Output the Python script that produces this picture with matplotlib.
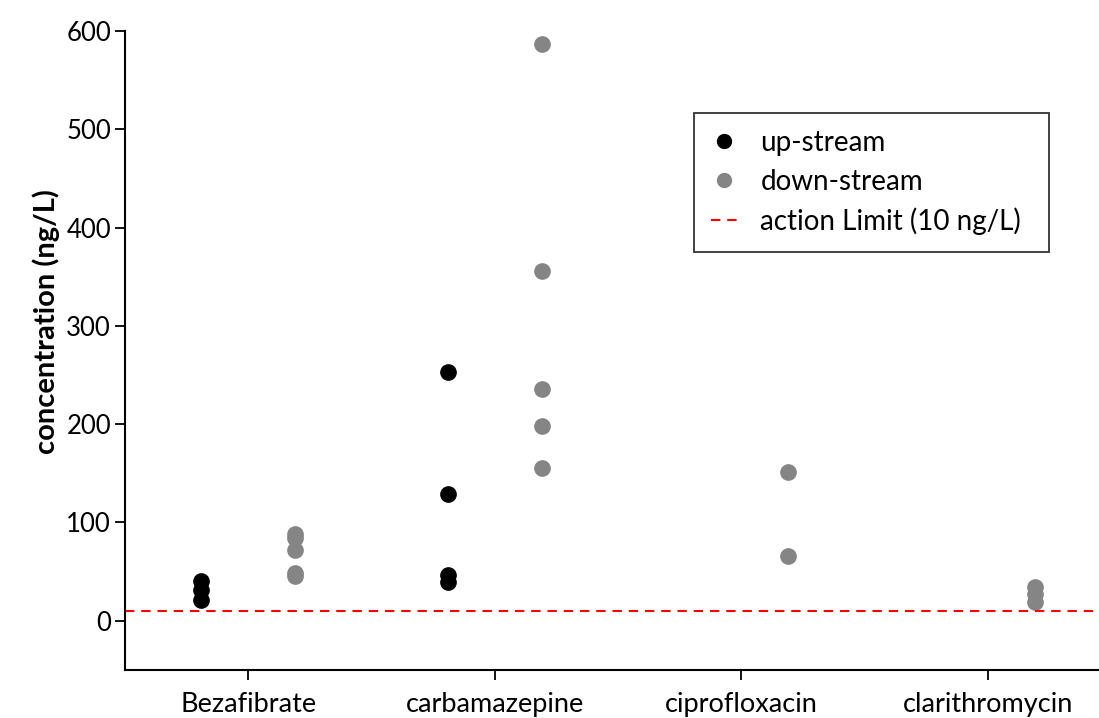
import matplotlib
matplotlib.use("Agg")
import matplotlib.pyplot as plt

# sampling results per compound (ng/L)
compounds = ["Bezafibrate", "carbamazepine", "ciprofloxacin", "clarithromycin"]
upstream = {
    "Bezafibrate": [41, 31, 21],
    "carbamazepine": [253, 129, 47, 39],
    "ciprofloxacin": [],
    "clarithromycin": [],
}
downstream = {
    "Bezafibrate": [88, 84, 72, 49, 46],
    "carbamazepine": [587, 356, 236, 198, 155],
    "ciprofloxacin": [151, 66],
    "clarithromycin": [34, 27, 19],
}
action_limit = 10
y_ticks = [0, 100, 200, 300, 400, 500, 600]

label_font = ["Lato", "DejaVu Sans"]
plt.rcParams["font.family"] = label_font

fig = plt.figure(figsize=(10.99, 7.18), dpi=100)
ax = fig.add_axes([0.1137, 0.0669, 0.8972, 0.890])

offset = 0.19
for i, name in enumerate(compounds):
    up = upstream[name]
    down = downstream[name]
    ax.plot([i - offset] * len(up), up, "o", color="black", markersize=11,
            label="up-stream" if i == 0 else None)
    ax.plot([i + offset] * len(down), down, "o", color="#858585", markersize=11,
            label="down-stream" if i == 0 else None)

ax.axhline(action_limit, color="red", linestyle=(0, (4.5, 3.3)), linewidth=1.5,
           label="action Limit (10 ng/L)")

ax.set_xlim(-0.5, 3.5)
ax.set_ylim(-50, 600)
ax.set_xticks(range(len(compounds)))
ax.set_xticklabels(compounds, fontsize=19.5)
ax.set_yticks(y_ticks)
ax.set_yticklabels([str(v) for v in y_ticks], fontsize=18.5)
ax.tick_params(axis="both", direction="out", length=7, width=1.3)
ax.tick_params(axis="x", pad=9)
ax.tick_params(axis="y", pad=3)

for side in ["top", "right"]:
    ax.spines[side].set_visible(False)
for side in ["left", "bottom"]:
    ax.spines[side].set_linewidth(1.5)

ax.set_ylabel("concentration (ng/L)", fontsize=21, fontweight="bold")
ax.yaxis.set_label_coords(-0.066, 0.545)

# legend box spans a fixed width to the right of carbamazepine
leg_top = 1 - 113 / 718
leg = ax.legend(loc="upper left", mode="expand",
                bbox_to_anchor=(694 / 1099, leg_top - 0.1, 355 / 1099, 0.1),
                bbox_transform=fig.transFigure,
                prop={"size": 20},
                frameon=True, fancybox=False, edgecolor="black",
                handlelength=0.94, handletextpad=0.83, borderpad=0.62,
                labelspacing=0.45, borderaxespad=0)
leg.get_frame().set_linewidth(1.3)
for h in leg.legend_handles[:2]:
    h.set_markersize(10)

fig.savefig("out.png", dpi=100)
